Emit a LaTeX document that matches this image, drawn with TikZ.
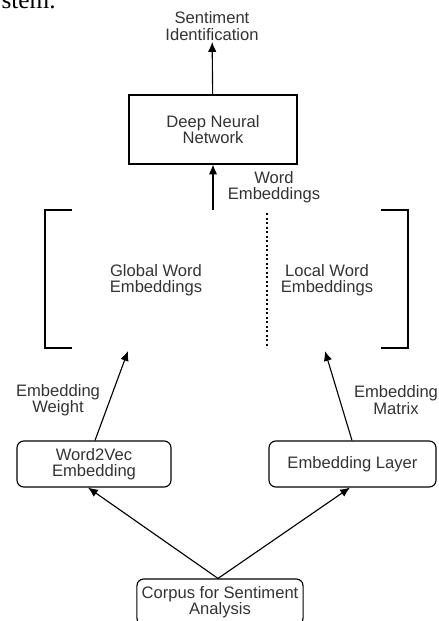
\documentclass[tikz,border=0pt]{standalone}
\usepackage{fontspec}
\setmainfont{Liberation Sans}
\newfontfamily\docserif{Liberation Serif}
\usepackage{xcolor}
\usetikzlibrary{arrows.meta,positioning}
\definecolor{txtgray}{HTML}{333333}

\begin{document}
\begin{tikzpicture}[
      x=0.025cm,y=-0.025cm,
      box/.style={draw,line width=0.8pt,align=center,minimum width=4.2cm,minimum height=1.725cm,text=txtgray,font=\fontsize{11.8}{11.6}\selectfont},
      rbox/.style={box,rounded corners=0.17cm,minimum height=1.15cm},
      lbl/.style={align=center,text=txtgray,font=\fontsize{11.8}{11.6}\selectfont,inner sep=1pt},
      brk/.style={line width=0.8pt},
      >={Latex[length=7pt,width=6pt]}
]
\useasboundingbox (0,0) rectangle (439,621);
\node[anchor=base east,font=\docserif\fontsize{18}{18}\selectfont,inner sep=0pt] (doctext) at (56,8) {system.};
\node[lbl] (output) at (212,26) {Sentiment\\Identification};
\node[box] (dnn) at (213,129.5) {Deep Neural\\Network};
\node[lbl] (wordemb) at (274,187) {Word\\Embeddings};
\coordinate (embtop) at (213,210);
\node[lbl] (global) at (156,280) {Global Word\\Embeddings};
\node[lbl] (local) at (327,280) {Local Word\\Embeddings};
\coordinate (globalin) at (128,351);
\coordinate (localin) at (325,351);
\node[lbl] (weight) at (58,400) {Embedding\\Weight};
\node[lbl] (matrix) at (396,400) {Embedding\\Matrix};
\node[rbox,minimum width=3.85cm] (w2v) at (94,464) {Word2Vec\\Embedding};
\node[rbox,minimum width=4.175cm] (layer) at (352.5,464) {Embedding Layer};
\node[rbox,minimum width=4.15cm] (corpus) at (220,602) {Corpus for Sentiment\\Analysis};
% brackets around the two kinds of embeddings
\draw[brk] (72,210) -- (45,210) -- (45,348) -- (72,348);
\draw[brk] (381,210) -- (408,210) -- (408,348) -- (381,348);
\draw[line width=0.8pt,dash pattern=on 1.6pt off 1.6pt] (267,213) -- (267,348);
\draw[->,line width=0.8pt] (dnn) -- (output);
\draw[->,line width=0.8pt] (embtop) -- (dnn);
\draw[->,line width=0.8pt] (w2v.north -| 95,0) -- (globalin);
\draw[->,line width=0.8pt] (layer.north -| 352,0) -- (localin);
\draw[->,line width=0.8pt] (corpus.north -| 218,0) -- (w2v.south -| 88,0);
\draw[->,line width=0.8pt] (corpus.north -| 218,0) -- (layer.south -| 350,0);
\end{tikzpicture}
\end{document}
